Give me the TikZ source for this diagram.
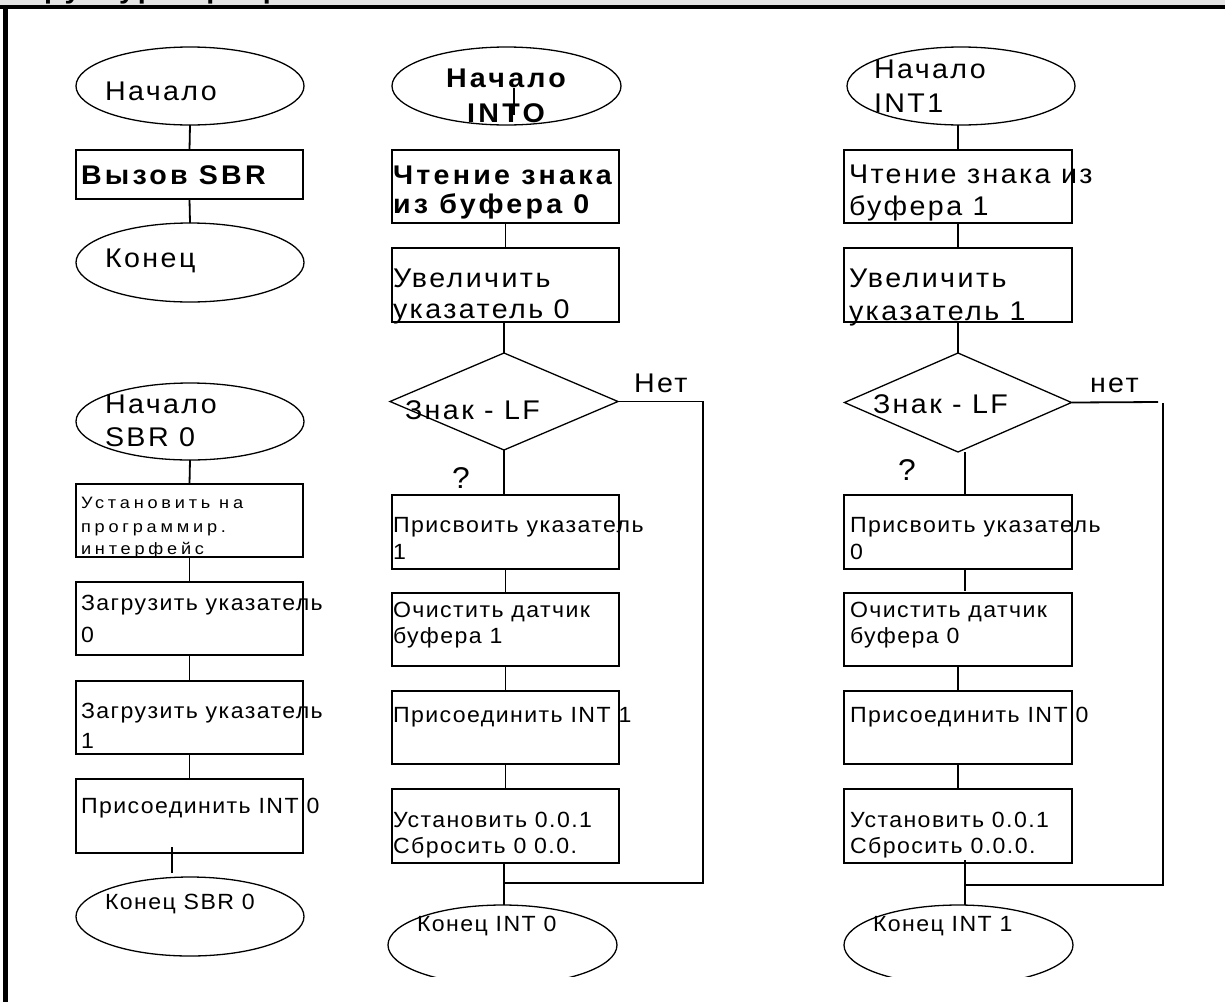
\documentclass[tikz,border=0pt]{standalone}
\usepackage{fontspec}
\setmainfont{Liberation Sans}
\newfontfamily\fbig{Liberation Sans}[FakeStretch=1.06, LetterSpace=9]
\newfontfamily\fmid{Liberation Sans}[FakeStretch=1.05, LetterSpace=6.5]
\newfontfamily\fsml{Liberation Sans}[FakeStretch=1.1, LetterSpace=23]
\newfontfamily\fbld{Liberation Sans Bold}[FakeStretch=1.06, LetterSpace=12]
\usetikzlibrary{shapes.geometric,calc}
\definecolor{stripgray}{HTML}{E4E4E4}
\begin{document}
\begin{tikzpicture}[x=1pt,y=-1pt,
  box/.style={draw, line width=1.8pt, rectangle, inner sep=0pt, outer sep=0pt},
  oval/.style={draw, line width=1.3pt, ellipse, inner sep=0pt, outer sep=0pt, minimum width=228pt},
  dia/.style={draw, line width=1.3pt, diamond, inner sep=0pt, outer sep=0pt},
  link/.style={line width=1.8pt},
  txt/.style={anchor=base west, inner sep=0pt, outer sep=0pt},
  tbig/.style={txt, font=\fbig\fontsize{27}{31}\selectfont},
  tq/.style={txt, font=\fbig\fontsize{30}{34}\selectfont},
  tmid/.style={txt, font=\fmid\fontsize{22}{26}\selectfont},
  tsmall/.style={txt, font=\fsml\fontsize{16.5}{20}\selectfont},
  tbold/.style={txt, font=\fbld\fontsize{27}{31}\selectfont}]
\useasboundingbox (0,0) rectangle (1225,1002);
% frame
\fill[stripgray] (0,0) rectangle (1225,4.5);
\begin{scope}
  \clip (0,0) rectangle (1225,4.5);
  \node[tbold] (title) at (3,-1.5) {Структура программы};
\end{scope}
\fill[black] (0,4.5) rectangle (1225,9);
\fill[black] (3,4.5) rectangle (7.5,1002);

% ---------- column 1 ----------
\node[oval, minimum height=78pt] (e11) at (190,86) {};
\node[box, minimum width=227pt, minimum height=49pt] (b11) at (189.5,174.5) {};
\node[oval, minimum height=79pt] (e12) at (190,262.5) {};
\draw[link] (e11.south) -- (b11.north);
\draw[link] (b11.south) -- (e12.north);
\node[tbig] (t11) at (105,100) {Начало};
\node[tbold] (t12) at (81,184) {Вызов SBR};
\node[tbig] (t13) at (105,267) {Конец};

\node[oval, minimum height=77pt] (e13) at (190,421.5) {};
\node[box, minimum width=227pt, minimum height=73pt] (b12) at (189.5,520.5) {};
\node[box, minimum width=227pt, minimum height=73pt] (b13) at (189.5,618.5) {};
\node[box, minimum width=227pt, minimum height=73pt] (b14) at (189.5,717.5) {};
\node[box, minimum width=227pt, minimum height=74pt] (b15) at (189.5,816) {};
\node[oval, minimum height=79pt] (e14) at (190,916.5) {};
\draw[link] (e13.south) -- (b12.north);
\draw[link] (b12.south) -- (b13.north);
\draw[link] (b13.south) -- (b14.north);
\draw[link] (b14.south) -- (b15.north);
\coordinate (s1a) at (172,847);
\coordinate (s1b) at (172,873);
\draw[link] (s1a) -- (s1b);
\node[tbig] (t14) at (105,413) {Начало};
\node[tbig] (t15) at (105,446) {SBR 0};
\node[tsmall] (t16) at (81,508) {Установить на};
\node[tsmall] (t17) at (81,532) {программир.};
\node[tsmall] (t18) at (81,554) {интерфейс};
\node[tmid] (t19) at (81,610) {Загрузить указатель};
\node[tmid] (t110) at (81,642) {0};
\node[tmid] (t111) at (81,718) {Загрузить указатель};
\node[tmid] (t112) at (81,748) {1};
\node[tmid] (t113) at (81,813) {Присоединить INT 0};
\node[tmid] (t114) at (105,909) {Конец SBR 0};

% ---------- column 2 ----------
\node[oval, minimum width=229pt, minimum height=78pt] (e21) at (506.5,86) {};
\coordinate (s2a) at (514,88);
\coordinate (s2b) at (514,115);
\draw[line width=1.3pt] (s2a) -- (s2b);
\node[box, minimum width=227pt, minimum height=73pt] (b21) at (505.5,186.5) {};
\node[box, minimum width=227pt, minimum height=74pt] (b22) at (505.5,285) {};
\node[dia, minimum width=228pt, minimum height=97pt] (d2) at (504,401.5) {};
\node[box, minimum width=227pt, minimum height=74pt] (b23) at (505.5,532) {};
\node[box, minimum width=227pt, minimum height=73pt] (b24) at (505.5,629.5) {};
\node[box, minimum width=227pt, minimum height=73pt] (b25) at (505.5,727.5) {};
\node[box, minimum width=227pt, minimum height=74pt] (b26) at (505.5,826) {};
\begin{scope}
  \clip (0,0) rectangle (1225,976);
  \node[oval, minimum width=229pt, minimum height=80pt] (e22) at (502.5,945) {};
\end{scope}
\draw[link] (b21.south) -- (b22.north);
\draw[link] (b22.south -| d2.north) -- (d2.north);
\draw[link] (d2.south) -- (d2.south |- b23.north);
\draw[link] (b23.south) -- (b24.north);
\draw[link] (b24.south) -- (b25.north);
\draw[link] (b25.south) -- (b26.north);
\draw[link] (d2.south |- b26.south) -- (d2.south |- e22.north);
\coordinate (r2) at (703,883);
\draw[link] (d2.east) -| (r2) -- (r2 -| d2.south);
\node[tbold, anchor=base] (t21) at (506,87) {Начало};
\node[tbold, anchor=base] (t22) at (506,122) {INTO};
\node[tbold] (t23) at (393,184) {Чтение знака};
\node[tbold] (t24) at (393,213) {из буфера 0};
\node[tbig] (t25) at (393,287) {Увеличить};
\node[tbig] (t26) at (393,318) {указатель 0};
\node[tbig] (t27) at (405,419) {Знак - LF};
\node[tbig] (t28) at (634,392) {Нет};
\node[tq] (t29) at (452,488) {?};
\node[tmid] (t210) at (393,532) {Присвоить указатель};
\node[tmid] (t211) at (393,559) {1};
\node[tmid] (t212) at (393,617) {Очистить датчик};
\node[tmid] (t213) at (393,643) {буфера 1};
\node[tmid] (t214) at (393,722) {Присоединить INT 1};
\node[tmid] (t215) at (393,827) {Установить 0.0.1};
\node[tmid] (t216) at (393,853) {Сбросить 0 0.0.};
\node[tmid] (t217) at (417,931) {Конец INT 0};

% ---------- column 3 ----------
\node[oval, minimum height=78pt] (e31) at (961,86) {};
\node[box, minimum width=228pt, minimum height=73pt] (b31) at (958,186.5) {};
\node[box, minimum width=228pt, minimum height=74pt] (b32) at (958,285) {};
\node[dia, minimum width=227pt, minimum height=99pt] (d3) at (958,402.5) {};
\node[box, minimum width=228pt, minimum height=74pt] (b33) at (958,532) {};
\node[box, minimum width=228pt, minimum height=73pt] (b34) at (958,629.5) {};
\node[box, minimum width=228pt, minimum height=73pt] (b35) at (958,727.5) {};
\node[box, minimum width=228pt, minimum height=74pt] (b36) at (958,826) {};
\begin{scope}
  \clip (0,0) rectangle (1225,976);
  \node[oval, minimum width=229pt, minimum height=80pt] (e32) at (958.5,945) {};
\end{scope}
\draw[link] (e31.south -| b31.north) -- (b31.north);
\draw[link] (b31.south) -- (b32.north);
\draw[link] (b32.south) -- (d3.north);
\draw[link] ([xshift=7pt]d3.south) -- ([xshift=7pt]d3.south |- b33.north);
\draw[link] ([xshift=7pt]b33.south) -- ([xshift=7pt,yshift=2pt]b34.north);
\draw[link] (b34.south) -- (b35.north);
\draw[link] (b35.south) -- (b36.north);
\draw[link] ([xshift=7pt,yshift=3pt]b36.south) -- ([xshift=7pt]b36.south |- e32.north);
\coordinate (r3a) at (1158,402);
\coordinate (r3b) at (1163,403);
\coordinate (r3c) at (1163,885);
\draw[link] (d3.east) -- (r3a);
\draw[link] (r3b) -- (r3c) -- ([xshift=7pt]r3c -| b36.south);
\node[tbig] (t31) at (874,78) {Начало};
\node[tbig] (t32) at (874,112) {INT1};
\node[tbig] (t33) at (849,183) {Чтение знака из};
\node[tbig] (t34) at (849,215) {буфера 1};
\node[tbig] (t35) at (849,287) {Увеличить};
\node[tbig] (t36) at (849,320) {указатель 1};
\node[tbig] (t37) at (873,413) {Знак - LF};
\node[tbig] (t38) at (1090,392) {нет};
\node[tq] (t39) at (898,480) {?};
\node[tmid] (t310) at (850,532) {Присвоить указатель};
\node[tmid] (t311) at (850,559) {0};
\node[tmid] (t312) at (850,617) {Очистить датчик};
\node[tmid] (t313) at (850,643) {буфера 0};
\node[tmid] (t314) at (850,722) {Присоединить INT 0};
\node[tmid] (t315) at (850,827) {Установить 0.0.1};
\node[tmid] (t316) at (850,853) {Сбросить 0.0.0.};
\node[tmid] (t317) at (873,931) {Конец INT 1};
\end{tikzpicture}
\end{document}
